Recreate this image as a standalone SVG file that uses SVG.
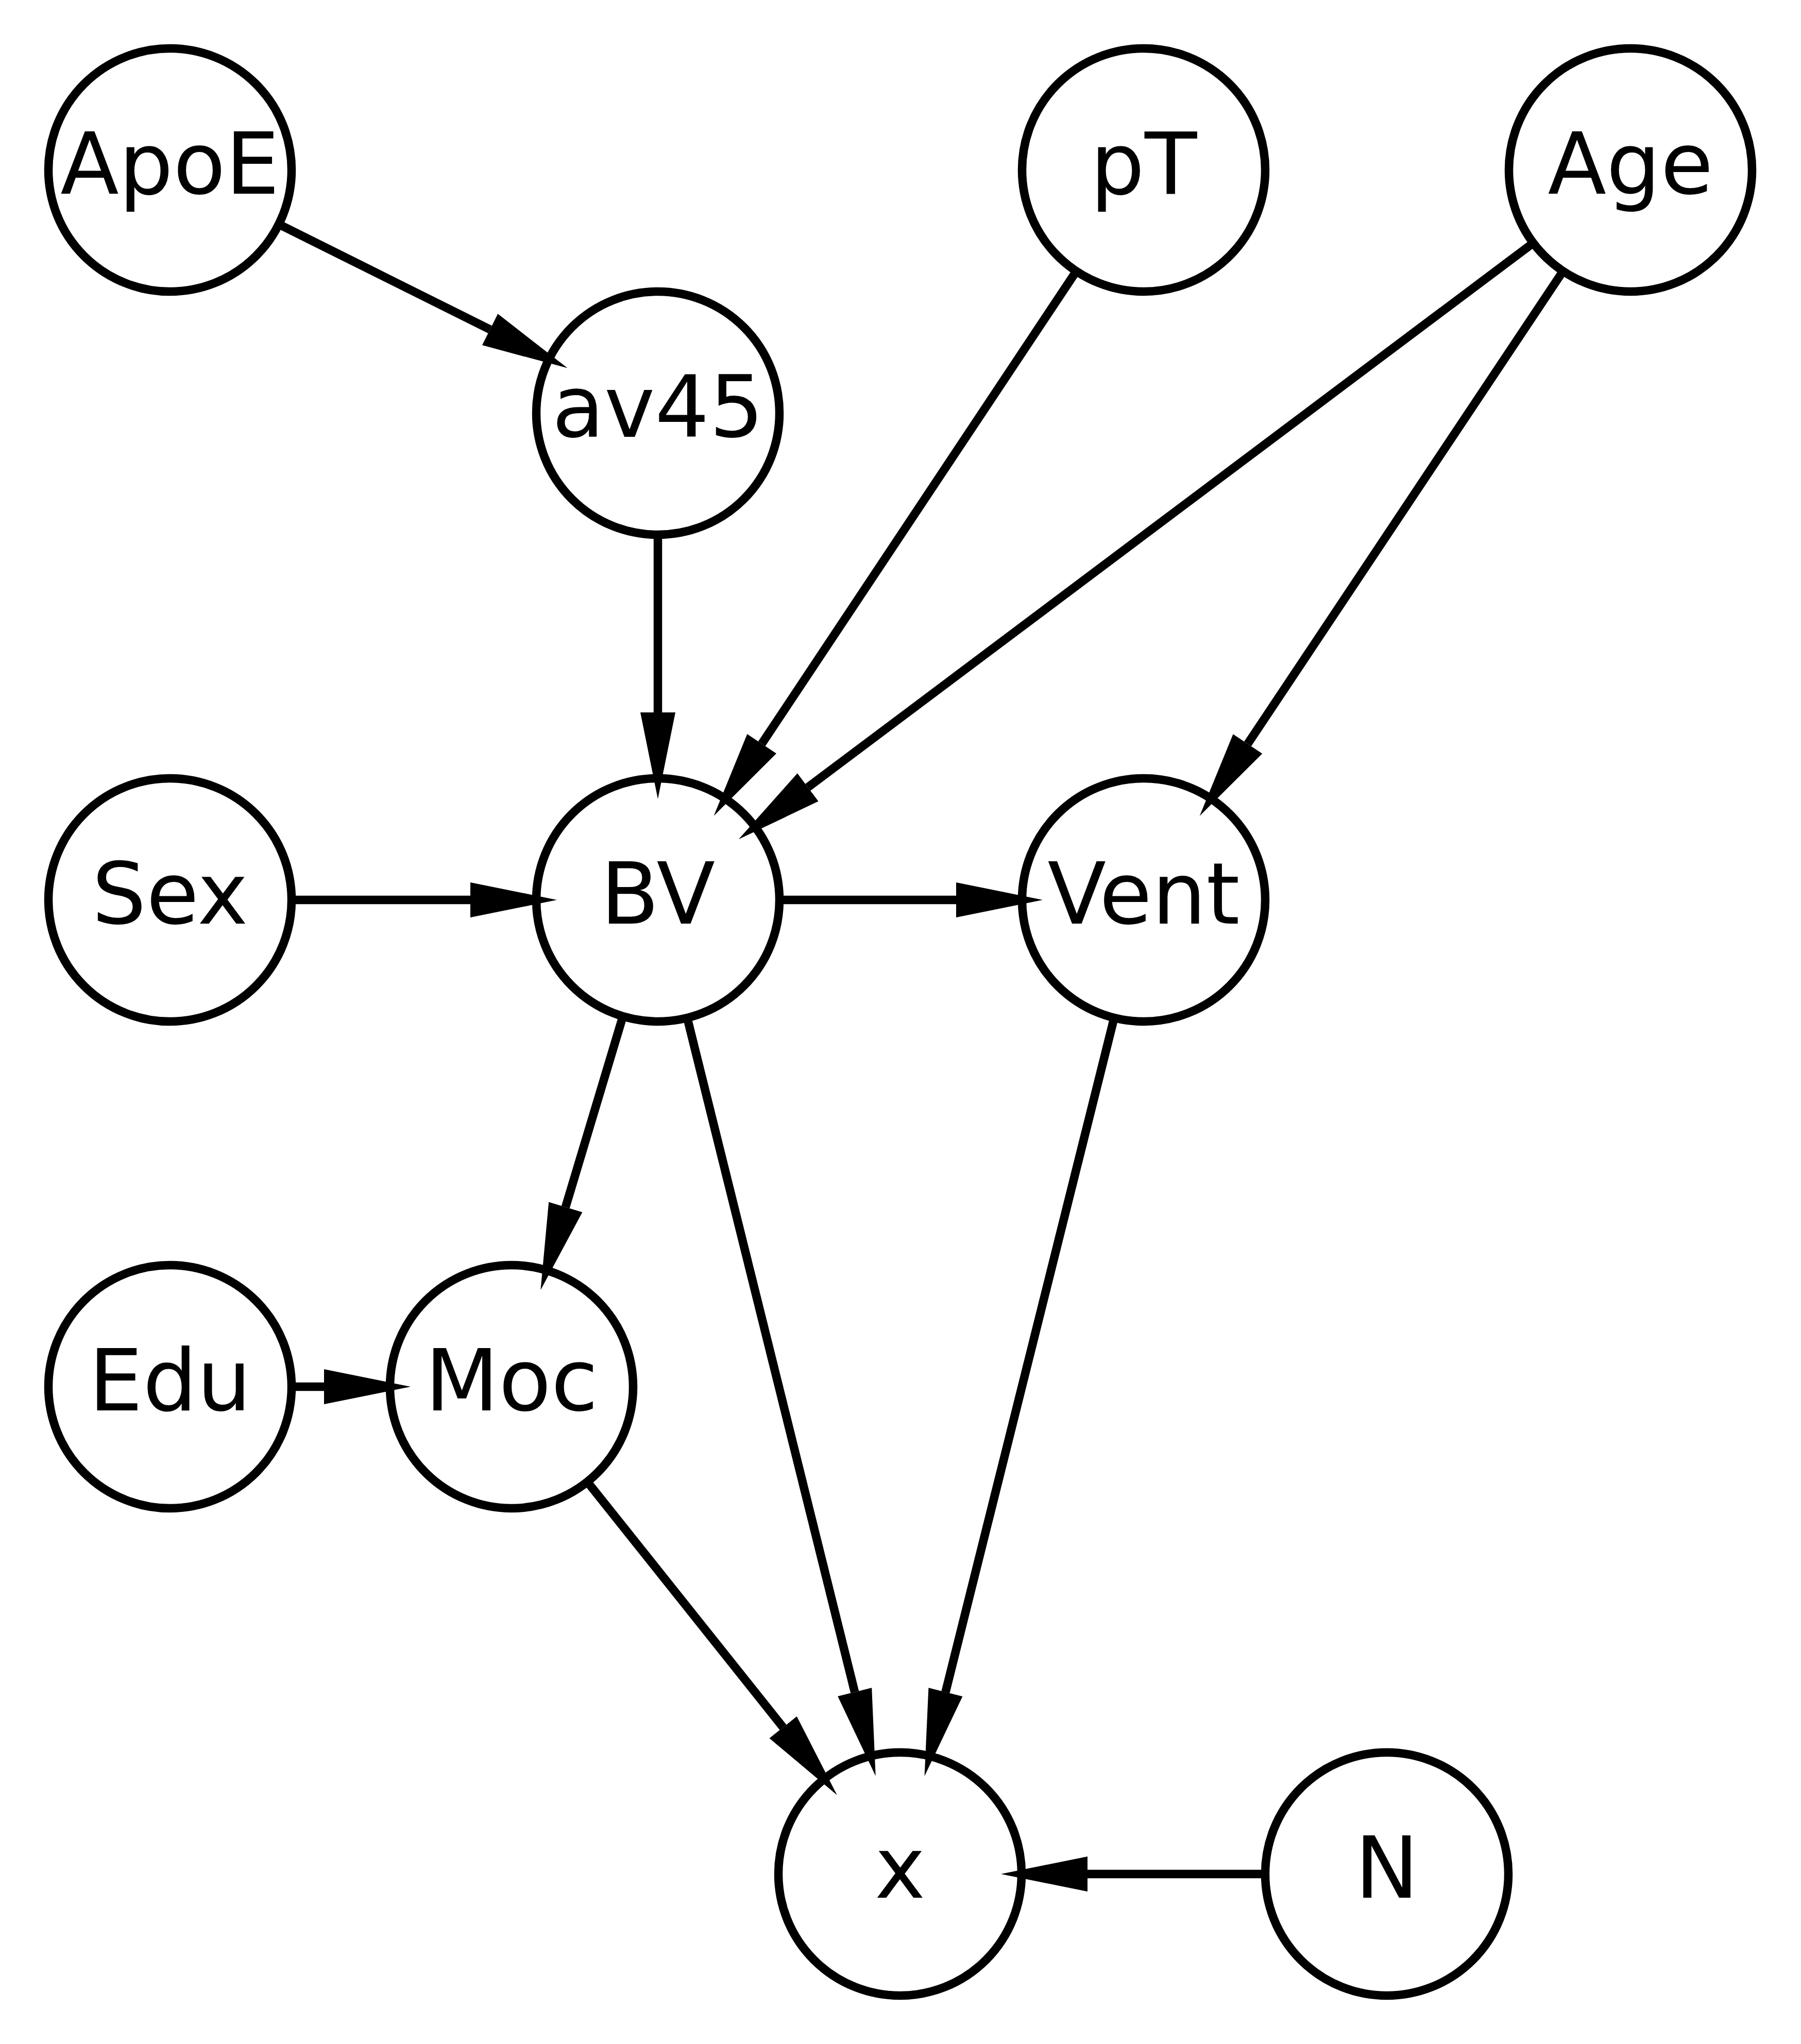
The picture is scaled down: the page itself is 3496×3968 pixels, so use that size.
<svg xmlns="http://www.w3.org/2000/svg" width="3496" height="3968" viewBox="0 0 3496 3968">
  <style>
    .node circle { fill: #ffffff; stroke: #000000; stroke-width: 16.5; }
    .node text { font-family: "DejaVu Sans", sans-serif; font-size: 166px; fill: #000000; text-anchor: middle; }
    .edge line { stroke: #000000; stroke-width: 16.5; }
    .edge polygon { fill: #000000; stroke: none; }
  </style>
  <rect width="3496" height="3968" fill="#ffffff"/>

  <!-- nodes -->
  <g id="node-ApoE" class="node"><circle cx="330" cy="330" r="236"/><text x="330" y="376">ApoE</text></g>
  <g id="node-pT" class="node"><circle cx="2220" cy="330" r="236"/><text x="2220" y="376">pT</text></g>
  <g id="node-Age" class="node"><circle cx="3165" cy="330" r="236"/><text x="3165" y="376">Age</text></g>
  <g id="node-av45" class="node"><circle cx="1277" cy="802" r="236"/><text x="1277" y="848">av45</text></g>
  <g id="node-Sex" class="node"><circle cx="330" cy="1747" r="236"/><text x="330" y="1793">Sex</text></g>
  <g id="node-BV" class="node"><circle cx="1277" cy="1747" r="236"/><text x="1277" y="1793">BV</text></g>
  <g id="node-Vent" class="node"><circle cx="2220" cy="1747" r="236"/><text x="2220" y="1793">Vent</text></g>
  <g id="node-Edu" class="node"><circle cx="330" cy="2692" r="236"/><text x="330" y="2738">Edu</text></g>
  <g id="node-Moc" class="node"><circle cx="993" cy="2692" r="236"/><text x="993" y="2738">Moc</text></g>
  <g id="node-x" class="node"><circle cx="1747" cy="3638" r="236"/><text x="1747" y="3684">x</text></g>
  <g id="node-N" class="node"><circle cx="2692" cy="3638" r="236"/><text x="2692" y="3684">N</text></g>

  <!-- connectors -->
  <g id="edges" class="edge">
    <!-- ApoE -> av45 -->
    <line x1="540.3" y1="434.8" x2="951.2" y2="639.7"/>
    <polygon points="1101.6,714.6 936.0,670.1 966.4,609.3"/>
    <!-- av45 -> BV -->
    <line x1="1277" y1="1037" x2="1277" y2="1383"/>
    <polygon points="1277,1551 1243,1383 1311,1383"/>
    <!-- pT -> BV -->
    <line x1="2089.8" y1="525.6" x2="1478.7" y2="1443.9"/>
    <polygon points="1385.6,1583.8 1507.0,1462.7 1450.4,1425.1"/>
    <!-- Age -> BV -->
    <line x1="2977.0" y1="471.1" x2="1568.2" y2="1528.4"/>
    <polygon points="1433.8,1629.3 1588.6,1555.6 1547.8,1501.2"/>
    <!-- Age -> Vent -->
    <line x1="3034.6" y1="525.5" x2="2421.9" y2="1444.1"/>
    <polygon points="2328.7,1583.9 2450.2,1463.0 2393.6,1425.2"/>
    <!-- Sex -> BV -->
    <line x1="565" y1="1747" x2="913" y2="1747"/>
    <polygon points="1081,1747 913,1713 913,1781"/>
    <!-- BV -> Vent -->
    <line x1="1512" y1="1747" x2="1856" y2="1747"/>
    <polygon points="2024,1747 1856,1713 1856,1781"/>
    <!-- BV -> Moc -->
    <line x1="1209.4" y1="1972.1" x2="1097.8" y2="2343.4"/>
    <polygon points="1049.4,2504.3 1130.4,2353.2 1065.2,2333.6"/>
    <!-- BV -> x -->
    <line x1="1333.7" y1="1975.1" x2="1659.2" y2="3284.8"/>
    <polygon points="1699.7,3447.8 1692.2,3276.6 1626.2,3293.0"/>
    <!-- Vent -> x -->
    <line x1="2163.0" y1="1975.0" x2="1835.4" y2="3284.9"/>
    <polygon points="1794.6,3447.9 1868.4,3293.2 1802.4,3276.6"/>
    <!-- Edu -> Moc -->
    <line x1="565" y1="2692" x2="629" y2="2692"/>
    <polygon points="797,2692 629,2658 629,2726"/>
    <!-- Moc -> x -->
    <line x1="1139.5" y1="2875.8" x2="1520.1" y2="3353.3"/>
    <polygon points="1624.8,3484.7 1546.7,3332.1 1493.5,3374.5"/>
    <!-- N -> x -->
    <line x1="2457" y1="3638" x2="2111" y2="3638"/>
    <polygon points="1943,3638 2111,3604 2111,3672"/>
  </g>
</svg>
